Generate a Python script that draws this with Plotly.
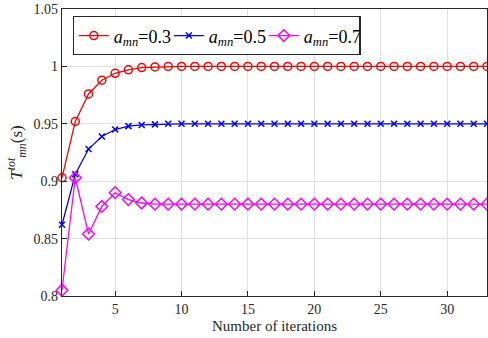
import plotly.graph_objects as go

iterations = list(range(1, 34))

t_03 = [0.903, 0.952, 0.976, 0.988, 0.994, 0.997, 0.999, 0.9995, 1.0, 1.0,
        1.0, 1.0, 1.0, 1.0, 1.0, 1.0, 1.0, 1.0, 1.0, 1.0,
        1.0, 1.0, 1.0, 1.0, 1.0, 1.0, 1.0, 1.0, 1.0, 1.0,
        1.0, 1.0, 1.0]
t_05 = [0.862, 0.906, 0.928, 0.939, 0.945, 0.948, 0.949, 0.9495, 0.95, 0.95,
        0.95, 0.95, 0.95, 0.95, 0.95, 0.95, 0.95, 0.95, 0.95, 0.95,
        0.95, 0.95, 0.95, 0.95, 0.95, 0.95, 0.95, 0.95, 0.95, 0.95,
        0.95, 0.95, 0.95]
t_07 = [0.805, 0.903, 0.854, 0.878, 0.890, 0.884, 0.881, 0.880, 0.880, 0.880,
        0.880, 0.880, 0.880, 0.880, 0.880, 0.880, 0.880, 0.880, 0.880, 0.880,
        0.880, 0.880, 0.880, 0.880, 0.880, 0.880, 0.880, 0.880, 0.880, 0.880,
        0.880, 0.880, 0.880]

x_ticks = [5, 10, 15, 20, 25, 30]
y_ticks = [0.8, 0.85, 0.9, 0.95, 1, 1.05]
y_labels = ['0.8', '0.85', '0.9', '0.95', '1', '1.05']

font = 'Liberation Serif, Times New Roman, serif'

fig = go.Figure()

series = [
    ('0.3', t_03, '#ff0000', 'circle-open', 8),
    ('0.5', t_05, '#0000ff', 'x-thin-open', 6),
    ('0.7', t_07, '#ff00ff', 'diamond-open', 9),
]
for label, vals, color, sym, size in series:
    fig.add_trace(go.Scatter(
        x=iterations, y=vals, mode='lines+markers',
        name='<i>a</i><sub><i>mn</i></sub>=' + label,
        line=dict(color=color, width=1.3),
        marker=dict(symbol=sym, size=size, color=color, line=dict(color=color, width=1.5)),
        cliponaxis=False,
    ))

fig.update_layout(
    width=488, height=338,
    margin=dict(l=62, r=1, t=9, b=42),
    plot_bgcolor='white', paper_bgcolor='white',
    font=dict(family=font, size=14, color='#262626'),
    legend=dict(orientation='h', x=0.025, y=0.975, xanchor='left', yanchor='top',
                bgcolor='white', bordercolor='#262626', borderwidth=1.2,
                font=dict(size=18, color='black'), itemwidth=30,
                entrywidth=50, entrywidthmode='pixels', tracegroupgap=0),
)
fig.update_xaxes(
    range=[1, 33], tickvals=x_ticks, showgrid=True, gridcolor='#e0e0e0',
    showline=True, linecolor='#262626', linewidth=1.2, mirror=True,
    ticks='inside', ticklen=5, tickcolor='#262626', zeroline=False,
    title=dict(text='Number of iterations', font=dict(size=15), standoff=4),
)
fig.update_yaxes(
    range=[0.8, 1.05], tickvals=y_ticks, ticktext=y_labels, showgrid=True,
    gridcolor='#e0e0e0', showline=True, linecolor='#262626', linewidth=1.2,
    mirror=True, ticks='inside', ticklen=5, tickcolor='#262626', zeroline=False,
    title=dict(text='<i>T</i><sup><i>tot</i></sup><sub><i>mn</i></sub>(s)',
               font=dict(size=17), standoff=6),
)

fig.write_html('out.html', config={'displayModeBar': False},
               post_script="document.body.style.margin='0';")
